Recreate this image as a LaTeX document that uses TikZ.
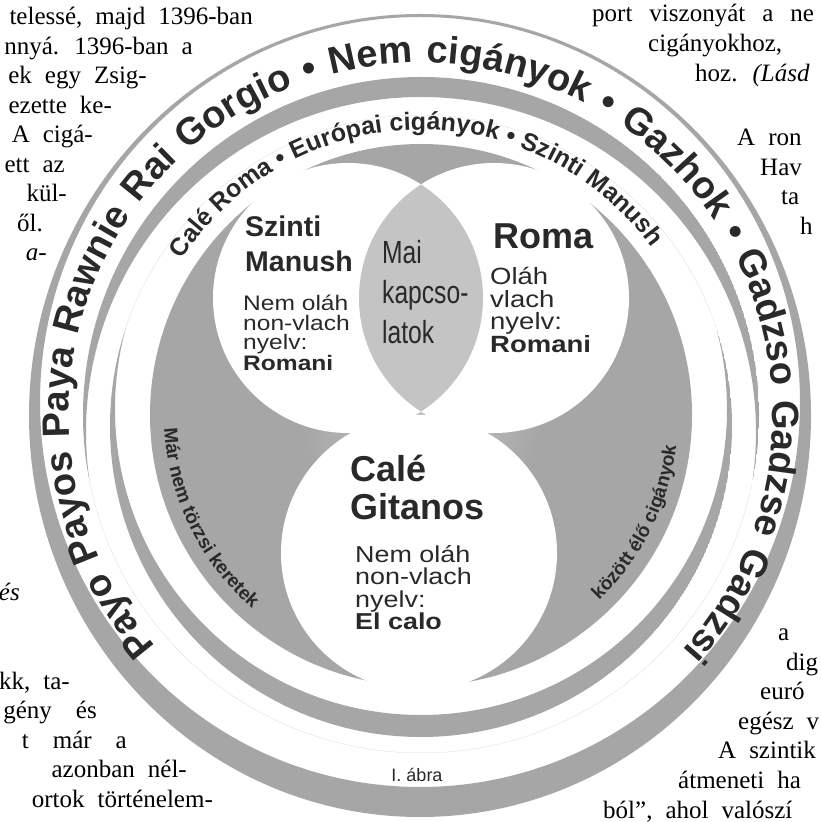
\documentclass[tikz,border=0pt]{standalone}
\usepackage{fontspec}
\setmainfont{Liberation Serif}
\newfontfamily\diafont{Liberation Sans}
\newfontfamily\widefont{Liberation Sans}[FakeStretch=1.17]
\newfontfamily\narrowfont{Liberation Sans}[FakeStretch=0.77]
\usetikzlibrary{calc,decorations.text}

\definecolor{ringgray}{gray}{0.65}
\definecolor{lensgray}{gray}{0.77}
\definecolor{inkgray}{gray}{0.16}

\tikzset{
  pageline/.style={inner sep=0pt, font=\fontsize{25}{30}\selectfont,
      execute at begin node={\spaceskip=13pt plus 2pt\relax}},
  leftline/.style={pageline, anchor=base east},
  rightline/.style={pageline, anchor=base west},
  dianode/.style={inner sep=0pt, anchor=north west, align=left, text=inkgray},
  arctext/.style={decorate, decoration={text along path, text color=inkgray,
      text align={fit to path stretching spaces}, text={#1}}},
  arcmidtext/.style={decorate, decoration={text along path, text color=inkgray,
      text align=center, text={#1}}}
}

\begin{document}
\begin{tikzpicture}[x=1pt, y=1pt]
\useasboundingbox (0,0) rectangle (821,822);
\fill[white] (0,0) rectangle (821,822);

% book text round the figure
\foreach \xe/\yb/\txt [count=\i] in {253/797/{telessé, majd 1396-ban},
    193/767.5/{nnyá. 1396-ban a}, 147/738/{ek egy Zsig-}, 112/708.5/{ezette ke-},
    93/679/{A cigá-}, 65/649.5/{ett az}, 67/620/{kül-}, 43/590.5/{ől.},
    47/561/{{\itshape a}-}, 20/221/{\itshape és}, 70/132.5/{kk, ta-},
    97/103/{gény\hspace{24pt}és}, 127/73.5/{t\hspace{24pt}már\hspace{24pt}a},
    187/44/{azonban nél-}, 213/14.5/{ortok történelem-}}
  \node[leftline] (left\i) at (\xe,\yb) {\txt};

\foreach \xs/\yb/\txt [count=\i] in {592/800/{port\hspace{17pt}viszonyát\hspace{17pt}a\hspace{17pt}ne},
    648/770/{cigányokhoz,}, 695/740/{hoz. {\itshape (Lásd}}, 737/676/{A ron},
    760/646/{Hav}, 781/617/{ta}, 800/587/{h}, 778/181/{a}, 786/151.5/{dig},
    760/122/{euró}, 738/92.5/{egész v}, 718/63/{A szintik}, 678/33.5/{átmeneti ha},
    603/4/{ból”, ahol valószí}}
  \node[rightline] (right\i) at (\xs,\yb) {\txt};

% rings
\coordinate (O) at (421,407);
\fill[ringgray, even odd rule] (420,406.5) ellipse[x radius=391pt, y radius=401.5pt]
  (420,420) ellipse[x radius=380pt, y radius=385pt];
\begin{scope}
  \clip (421,407) circle[radius=338pt];
  \fill[ringgray, even odd rule] (421,407) circle[radius=338pt] (421,390) circle[radius=335pt];
\end{scope}
\begin{scope}
  \clip (421,396) circle[radius=311pt];
  \fill[ringgray, even odd rule] (421,396) circle[radius=311pt] (421,413) circle[radius=306pt];
\end{scope}

% disk with the three groups
\fill[ringgray] (O) circle[radius=271pt];
\shade[inner color=lensgray, outer color=ringgray] (421,400) circle[radius=120pt];
\coordinate (S) at (348,524);
\coordinate (R) at (494,524);
\coordinate (C) at (419,269);
\fill[white] (S) circle[radius=135pt] (R) circle[radius=135pt] (C) circle[radius=138pt];
\begin{scope}
  \clip (S) circle[radius=135pt];
  \fill[lensgray] (R) circle[radius=135pt];
\end{scope}

\node[dianode, font=\diafont\bfseries\fontsize{28.5}{35}\selectfont] (szinti) at (245,606) {Szinti\\Manush};
\node[dianode, font=\widefont\fontsize{21}{19.5}\selectfont] (szintinyelv) at (243,527) {Nem oláh\\non-vlach\\nyelv:\\\textbf{Romani}};
\node[dianode, font=\diafont\bfseries\fontsize{36}{40}\selectfont] (roma) at (493,598) {Roma};
\node[dianode, font=\widefont\fontsize{23.5}{22.7}\selectfont] (romanyelv) at (490,555) {Oláh\\vlach\\nyelv:\\\textbf{Romani}};
\node[dianode, font=\narrowfont\fontsize{32}{40}\selectfont] (mai) at (382,582) {Mai\\kapcso-\\latok};
\node[dianode, font=\diafont\bfseries\fontsize{36}{38}\selectfont] (cale) at (350,367) {Calé\\Gitanos};
\node[dianode, font=\widefont\fontsize{23}{22.5}\selectfont] (calenyelv) at (355,277) {Nem oláh\\non-vlach\\nyelv:\\\textbf{El calo}};
\node[text=inkgray, font=\diafont\fontsize{18}{18}\selectfont] (abra) at (417,47) {I. ábra};

% texts on the rings
\path[arctext={|\diafont\bfseries\fontsize{38}{38}\selectfont|Payo Payos Paya Rawnie Rai Gorgio • Nem cigányok • Gazhok • Gadzso Gadzse Gadzsi}]
  ($(O)+(221:352pt)$) arc[start angle=221, end angle=-42, radius=352pt];
\path[arctext={|\diafont\bfseries\fontsize{25}{25}\selectfont|Calé Roma • Európai cigányok • Szinti Manush}]
  ($(O)+(147:285pt)$) arc[start angle=147, end angle=36, radius=285pt];
\path[arcmidtext={|\diafont\bfseries\fontsize{19}{19}\selectfont|Már nem törzsi keretek}]
  ($(O)+(179:257pt)$) arc[start angle=179, end angle=233, radius=257pt];
\path[arcmidtext={|\diafont\bfseries\fontsize{19}{19}\selectfont|között élő cigányok}]
  ($(O)+(-49:257pt)$) arc[start angle=-49, end angle=-4, radius=257pt];
\end{tikzpicture}
\end{document}
